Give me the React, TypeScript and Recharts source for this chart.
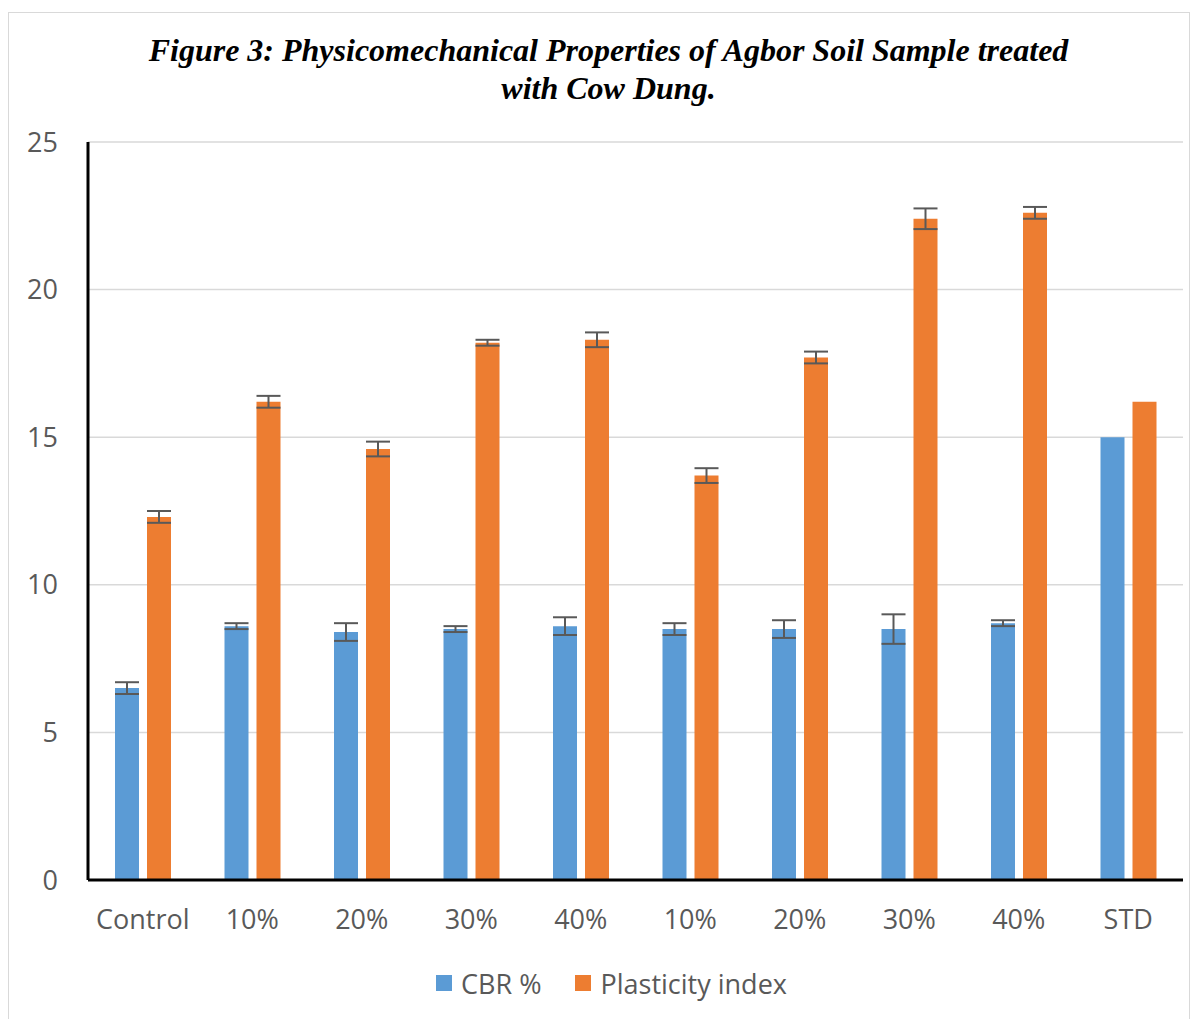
import React from "react";
import {
  BarChart,
  Bar,
  XAxis,
  YAxis,
  CartesianGrid,
  Legend,
  ErrorBar,
} from "recharts";

const categories = ["Control", "10%", "20%", "30%", "40%", "10%", "20%", "30%", "40%", "STD"];
const cbr = [6.5, 8.6, 8.4, 8.5, 8.6, 8.5, 8.5, 8.5, 8.7, 15];
const plasticity = [12.3, 16.2, 14.6, 18.2, 18.3, 13.7, 17.7, 22.4, 22.6, 16.2];
const cbrError = [0.2, 0.1, 0.3, 0.1, 0.3, 0.2, 0.3, 0.5, 0.1, null];
const plasticityError = [0.2, 0.2, 0.25, 0.1, 0.25, 0.25, 0.2, 0.35, 0.2, null];
const yTicks = [0, 5, 10, 15, 20, 25];

const data = categories.map((name, i) => ({
  id: i,
  name,
  cbr: cbr[i],
  cbrErr: cbrError[i],
  pi: plasticity[i],
  piErr: plasticityError[i],
}));

const textGray = "#595959";
const font = "'Open Sans', Lato, sans-serif";

const LegendContent = ({ payload }: any) => (
  <div style={{ display: "flex", alignItems: "center", height: 40, fontFamily: font, fontSize: 27, color: textGray }}>
    {(payload || []).map((p: any, i: number) => (
      <div key={i} style={{ display: "flex", alignItems: "center", marginRight: 34 }}>
        <span style={{ display: "inline-block", width: 16, height: 16, background: p.color, marginRight: 9 }} />
        <span>{p.value}</span>
      </div>
    ))}
  </div>
);

const App = () => {
  return (
    <div style={{ position: "absolute", left: 0, top: 0, width: 1197, height: 1019, background: "#fff", overflow: "hidden" }}>
      <div
        style={{
          position: "absolute",
          left: 8,
          top: 12,
          width: 1180,
          height: 1100,
          border: "1px solid #d9d9d9",
        }}
      />
      <div
        style={{
          position: "absolute",
          left: 18,
          top: 31,
          width: 1181,
          textAlign: "center",
          fontFamily: "'Liberation Serif', 'Times New Roman', serif",
          fontWeight: "bold",
          fontStyle: "italic",
          fontSize: 32,
          lineHeight: "38px",
          color: "#000",
        }}
      >
        Figure 3: Physicomechanical Properties of Agbor Soil Sample treated
        <br />
        with Cow Dung.
      </div>
      <div style={{ position: "absolute", left: 0, top: 0 }}>
        <BarChart
          width={1197}
          height={1019}
          data={data}
          margin={{ top: 142, right: 14, left: 0, bottom: 39 }}
          barSize={24}
          barGap={8}
        >
          <CartesianGrid vertical={false} stroke="#d9d9d9" strokeWidth={1.5} />
          <XAxis
            dataKey="id"
            tickFormatter={(v: number) => categories[v]}
            axisLine={{ stroke: "#000", strokeWidth: 3 }}
            tickLine={false}
            tickSize={6}
            tickMargin={24}
            height={60}
            interval={0}
            tick={{ fill: textGray, fontSize: 27, fontFamily: font }}
          />
          <YAxis
            domain={[0, 25]}
            ticks={yTicks}
            width={88}
            axisLine={{ stroke: "#000", strokeWidth: 3 }}
            tickLine={false}
            tickSize={6}
            tickMargin={24}
            tick={{ fill: textGray, fontSize: 27, fontFamily: font }}
          />
          <Legend
            content={<LegendContent />}
            wrapperStyle={{ top: 963, left: 436, width: "auto" }}
          />
          <Bar dataKey="cbr" name="CBR %" fill="#5b9bd5" isAnimationActive={false}>
            <ErrorBar dataKey="cbrErr" width={12} stroke="#595959" strokeWidth={2} direction="y" />
          </Bar>
          <Bar dataKey="pi" name="Plasticity index" fill="#ed7d31" isAnimationActive={false}>
            <ErrorBar dataKey="piErr" width={12} stroke="#595959" strokeWidth={2} direction="y" />
          </Bar>
        </BarChart>
      </div>
    </div>
  );
};

export default App;
